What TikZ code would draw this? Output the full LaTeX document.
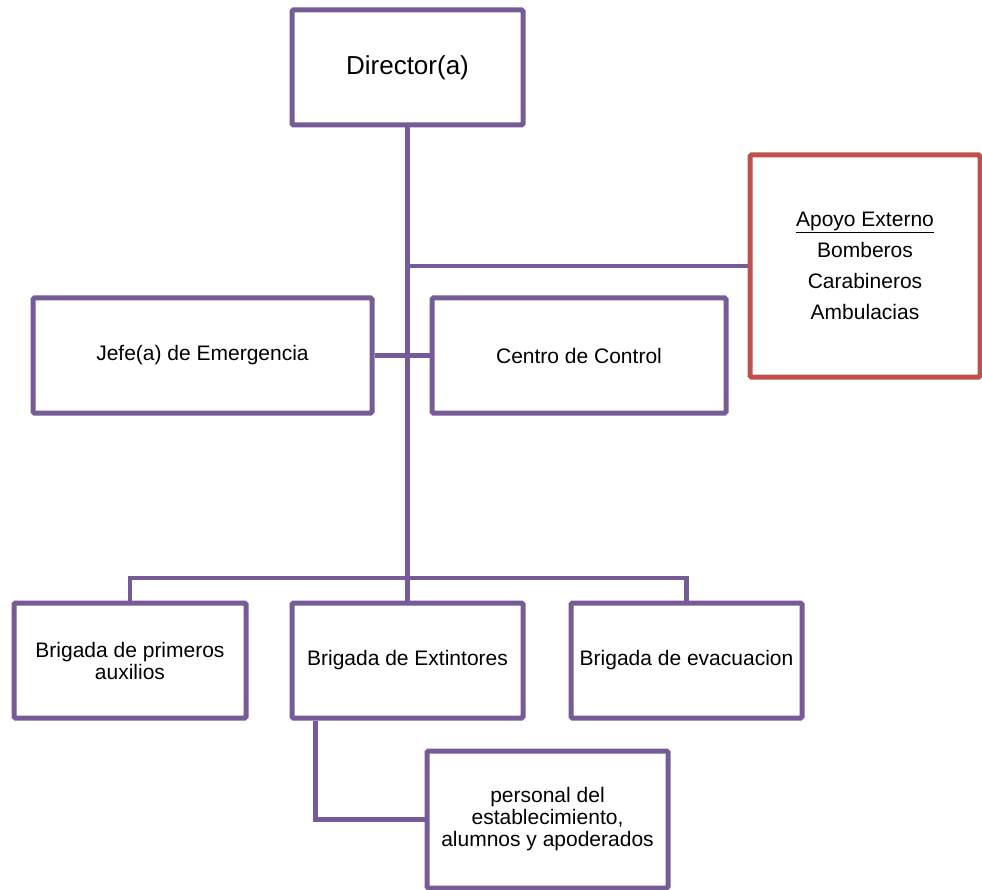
\documentclass[tikz,border=0pt]{standalone}
\usepackage{fontspec}
\setmainfont{Liberation Sans}
\usetikzlibrary{positioning}
\definecolor{orgpurple}{RGB}{118,92,150}
\definecolor{orgred}{RGB}{192,80,77}

\begin{document}
\begin{tikzpicture}[x=1pt,y=-1pt,line width=4.5pt,draw=orgpurple]
  \tikzstyle{every node}=[font=\fontsize{21}{22}\selectfont]
  \tikzstyle{unit}=[draw=orgpurple,line width=5pt,rounded corners=1.5pt,fill=white,align=center,inner sep=0pt]
  \tikzstyle{extern}=[unit,draw=orgred]
  \useasboundingbox (0,0) rectangle (982,890);

  \node[unit,minimum width=231pt,minimum height=115pt,font=\fontsize{26}{28}\selectfont] (dir) at (407.5,67.5) {Director(a)};
  \node[extern,minimum width=230pt,minimum height=222pt,font=\fontsize{21}{31}\selectfont] (apoyo) at (865,266)
    {\underline{Apoyo Externo}\\Bomberos\\Carabineros\\Ambulacias};
  \node[unit,minimum width=339pt,minimum height=115pt] (jefe) at (202.5,355.5) {Jefe(a) de Emergencia};
  \node[unit,minimum width=294pt,minimum height=115pt] (centro) at (579,355.5) {Centro de Control};

  \node[unit,minimum width=231pt,minimum height=115pt] (ext) at (407.5,660.5) {Brigada de Extintores};
  \node[unit,minimum width=232pt,minimum height=115pt,node distance=277.5pt,left of=ext] (aux)
    {Brigada de primeros\\auxilios};
  \node[unit,minimum width=231pt,minimum height=115pt,node distance=279pt,right of=ext] (evac)
    {Brigada de evacuacion};
  \node[unit,minimum width=241pt,minimum height=137pt] (pers) at (547.5,819.5)
    {personal del\\establecimiento,\\alumnos y apoderados};

  \coordinate (bus) at (407.5,578);

  \draw (dir.south) -- (bus);
  \draw (dir.south |- apoyo.west) -- (apoyo.west);
  \draw (jefe.east) -- (centro.west);
  \draw (aux.north) |- (bus) -| (evac.north);
  \draw (bus) -- (ext.north);
  \draw ([xshift=26pt]ext.south west) |- (pers.west);
\end{tikzpicture}
\end{document}
